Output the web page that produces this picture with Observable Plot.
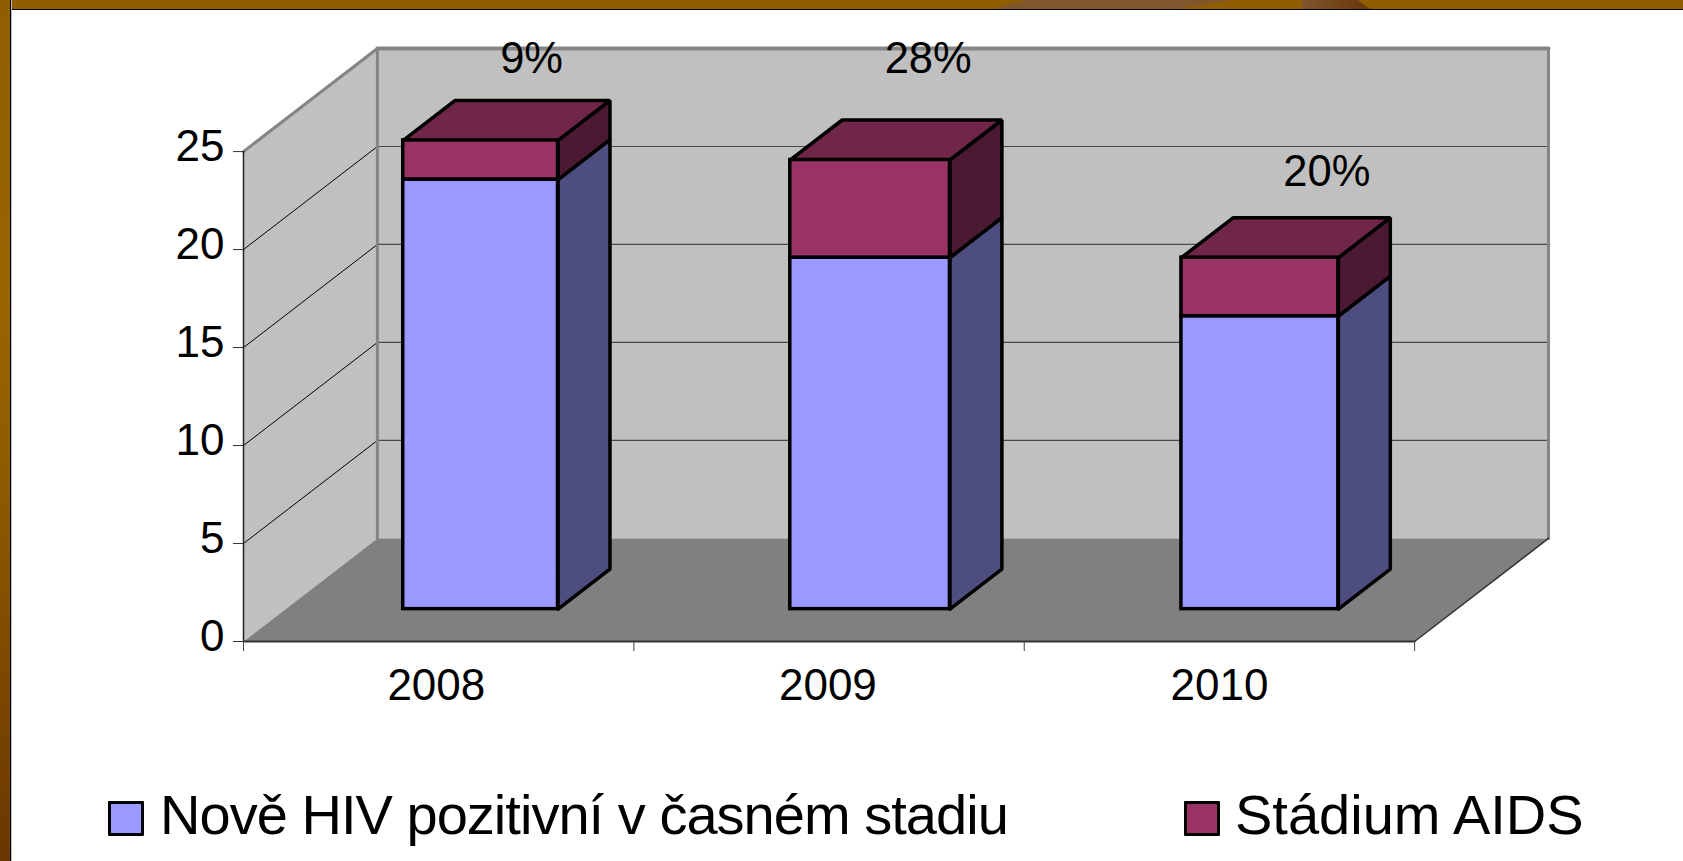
<!DOCTYPE html>
<html>
<head>
<meta charset="utf-8">
<script src="https://cdn.jsdelivr.net/npm/d3@7"></script>
<script src="https://cdn.jsdelivr.net/npm/@observablehq/plot@0.6"></script>
<style>
  html, body { margin: 0; padding: 0; background: #fff; width: 1683px; height: 861px; overflow: hidden; font-family: "Liberation Sans", Arial, sans-serif; }
  #stage { position: relative; width: 1683px; height: 861px; overflow: hidden; }
  #stage svg { display: block; background: transparent; }
  .frame { position: absolute; }
  #top { left: 0; top: 0; width: 1683px; height: 9px; background: #8F5E00; border-bottom: 1px solid #000; }
  #left { left: 0; top: 0; width: 10px; height: 861px; border-right: 1px solid #000; background: linear-gradient(#8F5E00 0%, #9A6500 35%, #8A5800 60%, #6B3600 100%); box-shadow: 1px 0 0 #bbb; }
  #patch1 { left: 993px; top: 0; width: 240px; height: 9px; background: #80562C; clip-path: polygon(14% 0, 100% 0, 76% 100%, 0 100%); }
  #patch2 { left: 1302px; top: 0; width: 68px; height: 9px; background: linear-gradient(90deg, #80562C, #6B3A10 85%); clip-path: polygon(0 0, 82% 0, 100% 100%, 0 100%); }
  #legend { position: relative; height: 81px; font-size: 56px; color: #000; line-height: 1; }
  #legend .sw { position: absolute; top: 21px; width: 30px; height: 29px; border: 3px solid #000; border-radius: 1px; }
  #legend .tx { position: absolute; top: 7px; white-space: nowrap; }
</style>
</head>
<body>
<div id="stage"></div>
<script>
// Data
const years = ["2008", "2009", "2010"];
const earlyStage = [22, 18, 15];
const aidsStage = [2, 5, 3];
const percents = ["9%", "28%", "20%"];
const percentAt = [[0.738, 29.73], [1.754, 29.73], [2.775, 23.95]];
const yTicks = [0, 5, 10, 15, 20, 25];
const seriesNames = ["Nově HIV pozitivní v časném stadiu", "Stádium AIDS"];

// Chart geometry, in scale units
const depthX = 0.343, depthY = 5.26;
const barZ = [0.314, 0.702];
const barSpan = [[0.3015, 0.698], [1.293, 1.702], [2.295, 2.697]];
const barHeightScale = 0.9965;
const project = (x, y, z = 0) => ({x: x + z * depthX, y: y + z * depthY});
const poly = (pts, fill, stroke, strokeWidth) =>
  Plot.line([...pts, pts[0]].map(p => project(...p)), {x: "x", y: "y", fill, stroke: stroke ?? "none", strokeWidth: strokeWidth ?? 1, strokeLinejoin: "miter", curve: "linear"});
const segment = (a, b, stroke, strokeWidth) =>
  Plot.line([project(...a), project(...b)], {x: "x", y: "y", stroke, strokeWidth});

const colors = {
  wall: "#C0C0C0", wallEdge: "#858585", floor: "#808080", grid: "#4A4A4A",
  early: "#9999FF", earlySide: "#4D4D7F",
  aids: "#993366", aidsTop: "#6F2649", aidsSide: "#4C1933"
};
const bw = 3.5;
const xMax = 3;

const marks = [
  // walls
  poly([[0,0,0],[0,25,0],[0,25,1],[0,0,1]], colors.wall),
  poly([[0,0,1],[0,25,1],[xMax,25,1],[xMax,0,1]], colors.wall),
  // floor
  poly([[0,0,0],[xMax,0,0],[xMax,0,1],[0,0,1]], colors.floor),
  // grid
  ...yTicks.filter(d => d > 0 && d < 25).flatMap(v => [
    segment([0,v,0],[0,v,1], "#000", 1),
    segment([0,v,1],[xMax,v,1], colors.grid, 1.2)
  ]),
  // wall edges
  segment([0,25,0],[0,25,1], colors.wallEdge, 3),
  segment([0,0,1],[0,25,1], colors.wallEdge, 3),
  segment([0,25,1],[xMax,25,1], colors.wallEdge, 4),
  segment([xMax,25,1],[xMax,0,1], colors.wallEdge, 3),
  segment([0,0,0],[0,25,0], "#222", 1.5),
  segment([xMax,0,0],[xMax,0,1], "#333", 1.5),
  segment([0,0,0],[xMax,0,0], "#333", 2),
  // bars
  ...years.flatMap((yr, i) => {
    const [l, r] = barSpan[i];
    const [z0, z1] = barZ;
    const a = earlyStage[i] * barHeightScale, b = (earlyStage[i] + aidsStage[i]) * barHeightScale;
    return [
      poly([[r,0,z0],[r,a,z0],[r,a,z1],[r,0,z1]], colors.earlySide, "#000", bw),
      poly([[r,a,z0],[r,b,z0],[r,b,z1],[r,a,z1]], colors.aidsSide, "#000", bw),
      poly([[l,b,z0],[r,b,z0],[r,b,z1],[l,b,z1]], colors.aidsTop, "#000", bw),
      Plot.rect([{l, r, y1: 0, y2: a}], {x1: d => project(d.l, d.y1, z0).x, x2: d => project(d.r, d.y1, z0).x, y1: d => project(d.l, d.y1, z0).y, y2: d => project(d.l, d.y2, z0).y, fill: colors.early, stroke: "#000", strokeWidth: bw}),
      Plot.rect([{l, r, y1: a, y2: b}], {x1: d => project(d.l, d.y1, z0).x, x2: d => project(d.r, d.y1, z0).x, y1: d => project(d.l, d.y1, z0).y, y2: d => project(d.l, d.y2, z0).y, fill: colors.aids, stroke: "#000", strokeWidth: bw})
    ];
  }),
  // percent labels
  Plot.text(percents, {x: (d, i) => percentAt[i][0], y: (d, i) => percentAt[i][1], text: d => d, fontSize: 43.5, fill: "#000", lineAnchor: "middle"}),
  // axes
  Plot.axisY(yTicks, {anchor: "left", tickSize: 10, tickFormat: () => "", label: null, stroke: "#333"}),
  Plot.axisY(yTicks, {anchor: "left", tickSize: 0, tickPadding: 19, dy: -5, label: null, fontSize: 44, fill: "#000"}),
  Plot.axisX([0, 1, 2, 3], {anchor: "bottom", tickSize: 10, tickFormat: () => "", label: null, stroke: "#444"}),
  Plot.axisX([0.494, 1.497, 2.5], {anchor: "bottom", tickSize: 0, tickPadding: 27, tickFormat: d => years[Math.floor(d)], label: null, fontSize: 44, fill: "#000"})
];

const chart = Plot.plot({
  width: 1683,
  height: 780,
  marginLeft: 243,
  marginRight: 135,
  marginTop: 48,
  marginBottom: 139,
  x: {domain: [0, 3 + depthX], axis: null},
  y: {domain: [0, 25 + depthY], axis: null},
  style: {fontFamily: '"Liberation Sans", Arial, sans-serif', background: "transparent", overflow: "visible"},
  marks
});

const stage = document.getElementById("stage");
stage.appendChild(chart);

const legend = document.createElement("div");
legend.id = "legend";
const legendItems = [
  {name: seriesNames[0], color: colors.early, sw: 108, tx: 160, spacing: "-0.97px"},
  {name: seriesNames[1], color: colors.aids, sw: 1184, tx: 1235, spacing: "0"}
];
for (const it of legendItems) {
  const s = document.createElement("div");
  s.className = "sw"; s.style.left = it.sw + "px"; s.style.background = it.color;
  const t = document.createElement("div");
  t.className = "tx"; t.style.left = it.tx + "px"; t.style.letterSpacing = it.spacing; t.textContent = it.name;
  legend.append(s, t);
}
stage.appendChild(legend);

for (const id of ["top", "left", "patch1", "patch2"]) {
  const f = document.createElement("div");
  f.id = id; f.className = "frame";
  stage.appendChild(f);
}
</script>
</body>
</html>
